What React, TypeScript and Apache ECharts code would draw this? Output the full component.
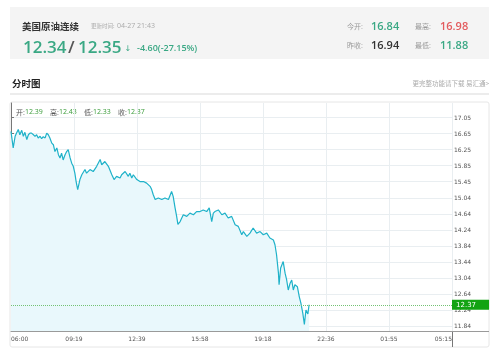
import React, { useEffect, useRef } from "react";
import * as echarts from "echarts";

// minutes after 06:00
const times = [0, 7, 13, 18, 23, 28, 34, 39, 44, 50, 55, 60, 65, 71, 76, 81, 86, 92, 97, 102, 108, 113, 118, 123, 129, 134, 139, 145, 150, 155, 160, 165, 171, 176, 181, 187, 192, 197, 202, 206, 211, 218, 224, 234, 239, 250, 260, 271, 282, 287, 297, 308, 319, 326, 334, 345, 350, 361, 371, 376, 382, 387, 398, 408, 419, 429, 440, 445, 450, 456, 466, 477, 487, 498, 508, 513, 519, 524, 528, 535, 545, 556, 566, 577, 587, 598, 608, 619, 627, 635, 640, 645, 656, 667, 677, 687, 698, 709, 719, 730, 735, 746, 756, 766, 777, 788, 798, 809, 819, 830, 835, 840, 846, 848, 853, 861, 867, 872, 877, 883, 888, 893, 898, 906, 912, 917, 923, 928, 933, 939, 943];
const prices = [16.7, 16.29, 16.58, 16.67, 16.75, 16.62, 16.73, 16.58, 16.68, 16.5, 16.62, 16.66, 16.66, 16.62, 16.58, 16.62, 16.54, 16.58, 16.52, 16.57, 16.54, 16.66, 16.62, 16.54, 16.41, 16.37, 16.2, 16.29, 16.12, 16.04, 16.16, 15.99, 16.12, 16.2, 16.25, 16.04, 15.91, 15.83, 15.66, 15.45, 15.25, 15.5, 15.62, 15.75, 15.66, 15.75, 15.7, 15.83, 16.0, 15.87, 15.95, 15.83, 15.62, 15.5, 15.58, 15.54, 15.62, 15.7, 15.58, 15.66, 15.54, 15.62, 15.5, 15.45, 15.45, 15.41, 15.33, 15.25, 15.12, 15.0, 15.04, 15.0, 15.04, 15.0, 15.2, 15.08, 14.79, 14.58, 14.38, 14.45, 14.62, 14.58, 14.66, 14.62, 14.7, 14.7, 14.74, 14.7, 14.79, 14.45, 14.66, 14.7, 14.74, 14.62, 14.66, 14.54, 14.58, 14.37, 14.33, 14.12, 14.2, 14.08, 14.16, 14.29, 14.16, 14.2, 14.12, 14.16, 14.04, 13.99, 13.87, 13.62, 13.16, 12.87, 13.29, 13.45, 13.16, 12.99, 12.74, 12.91, 12.99, 12.74, 12.87, 12.82, 12.57, 12.41, 12.16, 11.88, 12.24, 12.14, 12.37];

const xTickLabels = ["06:00", "09:19", "12:39", "15:58", "19:18", "22:36", "01:55", "05:15"];
const yTickLabels = [11.84, 12.24, 12.64, 13.04, 13.44, 13.84, 14.24, 14.64, 15.04, 15.45, 15.85, 16.25, 16.65, 17.05];
const totalMinutes = 1395;
const lastPrice = 12.37;

const header = {
  name: "美国原油连续",
  updatedLabel: "更新时间:",
  updated: "04-27 21:43",
  bid: "12.34",
  ask: "12.35",
  change: "-4.60(-27.15%)",
  open: "16.84",
  high: "16.98",
  prevClose: "16.94",
  low: "11.88",
};
const ohlcLabels = ["开:", "高:", "低:", "收:"];
const ohlcValues = ["12.39", "12.43", "12.33", "12.37"];

const CJK = '"Noto Sans CJK SC", "Noto Sans", sans-serif';
const NUM = '"Open Sans", "Noto Sans", sans-serif';
const GREEN = "#3aa884";
const RED = "#e35b5e";

export default function App() {
  const ref = useRef<HTMLDivElement>(null);
  useEffect(() => {
    if (!ref.current) return;
    const chart = echarts.init(ref.current, undefined, { renderer: "svg" });
    const step = totalMinutes / (xTickLabels.length - 1);
    const xVals = xTickLabels.map((_, i) => i * step);
    const txt = (x: number, y: number, text: string, size: number, fill: string, opts: any = {}) => ({
      type: "text",
      x,
      y,
      silent: true,
      style: {
        text,
        fill,
        font: `${opts.weight || "normal"} ${size}px ${opts.family || CJK}`,
        verticalAlign: "middle",
        align: opts.align || "left",
      },
    });
    const ohlcGraphics = ohlcLabels.map((l, i) => ({
      type: "text",
      x: 16 + i * 34,
      y: 111.5,
      silent: true,
      style: {
        text: `{l|${l}}{v|${ohlcValues[i]}}`,
        verticalAlign: "middle",
        rich: {
          l: { fill: "#555", font: `7px ${CJK}` },
          v: { fill: "#3a9c3a", font: `7px ${NUM}` },
        },
      },
    }));
    chart.setOption({
      animation: false,
      grid: { left: 11, right: 47, top: 103, bottom: 23 },
      xAxis: {
        type: "value",
        min: 0,
        max: totalMinutes,
        axisLine: { show: true, lineStyle: { color: "#9a9a9a", width: 1 } },
        axisTick: { show: false, customValues: xVals },
        splitLine: { show: true, lineStyle: { color: "#e9eef1", width: 1 } },
        axisLabel: {
          customValues: xVals,
          formatter: (v: number) => xTickLabels[Math.round(v / step)] ?? "",
          color: "#555",
          fontSize: 6,
          fontFamily: "DejaVu Sans",
          margin: 4,
          alignMinLabel: "left",
          alignMaxLabel: "right",
        },
      },
      yAxis: {
        type: "value",
        position: "right",
        min: 11.715,
        max: 17.413,
        axisLine: { show: true, lineStyle: { color: "#777", width: 1 } },
        axisTick: { show: true, length: 3, customValues: yTickLabels, lineStyle: { color: "#777" } },
        splitLine: { show: true, lineStyle: { color: "#e9eef1", width: 1 } },
        axisLabel: {
          customValues: yTickLabels,
          formatter: (v: number) => v.toFixed(2),
          color: "#555",
          fontSize: 6,
          fontFamily: "DejaVu Sans",
          margin: 2,
        },
      },
      series: [
        {
          type: "line",
          data: times.map((t, i) => [t, prices[i]]),
          showSymbol: false,
          symbol: "none",
          lineStyle: { color: "#1fb2c9", width: 1.2 },
          areaStyle: { color: "#e9f8fc", opacity: 1 },
          markLine: {
            silent: true,
            symbol: "none",
            lineStyle: { type: "dotted", color: "#74c274", width: 1 },
            label: {
              position: "end",
              distance: 0,
              formatter: () => lastPrice.toFixed(2),
              color: "#fff",
              backgroundColor: "#13a313",
              fontSize: 7,
              fontFamily: "DejaVu Sans",
              padding: [1, 13, 1, 4],
              lineHeight: 8,
            },
            data: [{ yAxis: lastPrice }],
          },
        },
      ],
      graphic: [
        { type: "rect", silent: true, z: -10, shape: { x: 10, y: 7, width: 479, height: 52 }, style: { fill: "#f4f4f4" } },
        txt(22, 25.5, header.name, 9.5, "#333", { weight: "bold" }),
        txt(91, 25.5, header.updatedLabel, 5.5, "#aaa"),
        txt(117, 25.5, header.updated, 7, "#aaa", { family: NUM }),
        txt(23, 46, header.bid, 17, GREEN, { family: NUM, weight: 600 }),
        txt(68, 46, "/", 17, "#555", { family: NUM, weight: 600 }),
        txt(78, 46, header.ask, 17, GREEN, { family: NUM, weight: 600 }),
        txt(124.5, 48, "↓", 8, GREEN, { family: "DejaVu Sans" }),
        txt(137, 47.5, header.change, 9, GREEN, { family: NUM, weight: 600 }),
        txt(347, 25.5, "今开:", 7, "#999"),
        txt(371, 25.5, header.open, 11, GREEN, { family: NUM, weight: 600 }),
        txt(415, 25.5, "最高:", 7, "#999"),
        txt(440, 25.5, header.high, 11, RED, { family: NUM, weight: 600 }),
        txt(347, 44.5, "昨收:", 7, "#999"),
        txt(371, 44.5, header.prevClose, 11, "#333", { family: NUM, weight: 600 }),
        txt(415, 44.5, "最低:", 7, "#999"),
        txt(440, 44.5, header.low, 11, GREEN, { family: NUM, weight: 600 }),
        txt(12, 82.5, "分时图", 9.5, "#222", { weight: "bold" }),
        txt(489, 82.5, "更完整功能请下载 易汇通>", 6.5, "#aaa", { align: "right" }),
        { type: "rect", silent: true, shape: { x: 10, y: 93, width: 479, height: 2 }, style: { fill: "#ececec" } },
        { type: "rect", silent: true, z: -10, shape: { x: 10, y: 102, width: 479, height: 245, r: 2 }, style: { fill: "none", stroke: "#e6e6e6", lineWidth: 1 } },
        { type: "line", silent: true, shape: { x1: 452.5, y1: 331, x2: 452.5, y2: 347 }, style: { stroke: "#777", lineWidth: 1 } },
        { type: "line", silent: true, shape: { x1: 452, y1: 331.5, x2: 489, y2: 331.5 }, style: { stroke: "#9a9a9a", lineWidth: 1 } },
        ...ohlcGraphics,
      ],
    });
    return () => chart.dispose();
  }, []);
  return <div ref={ref} style={{ position: "fixed", left: 0, top: 0, width: 499, height: 354 }} />;
}
